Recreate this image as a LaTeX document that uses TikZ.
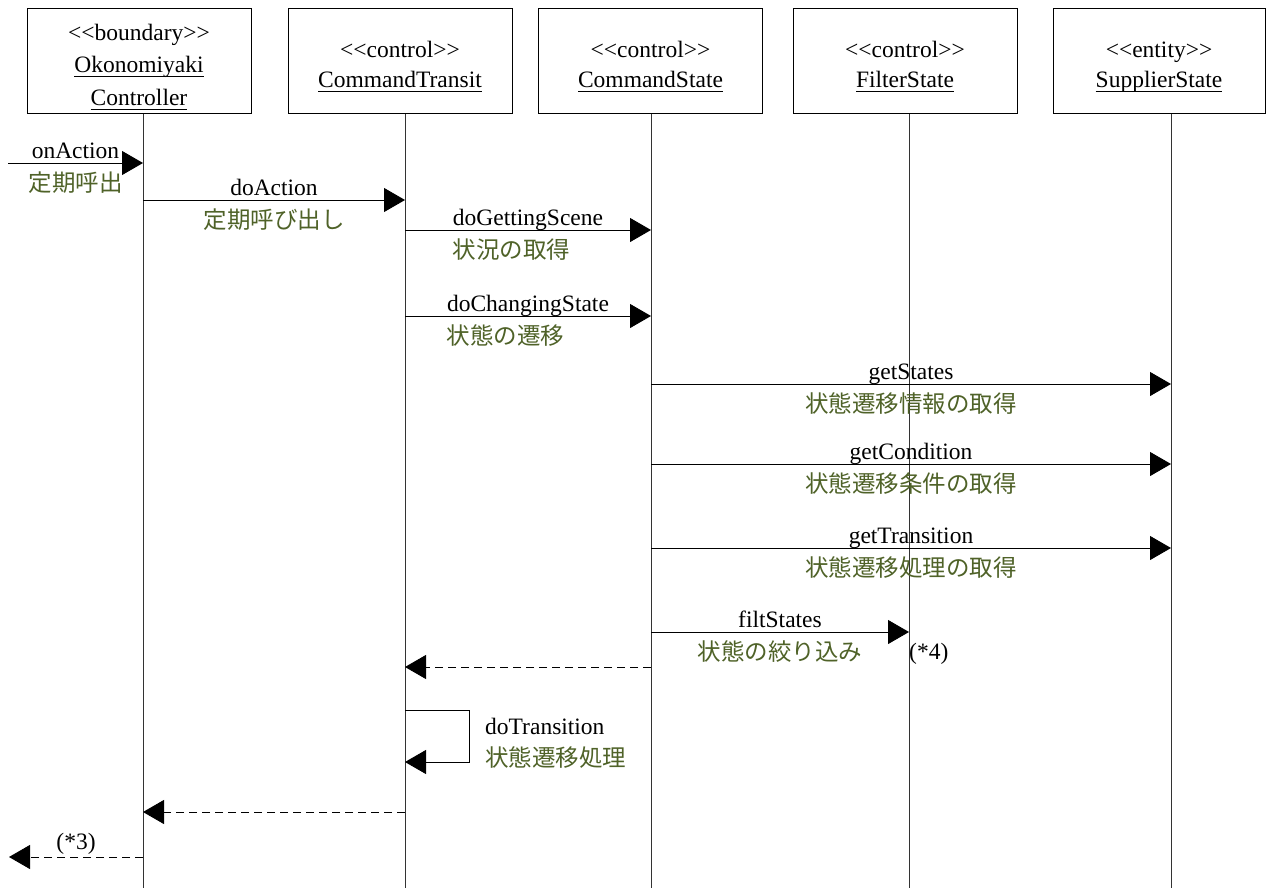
\documentclass[tikz,border=0pt]{standalone}
\usepackage{fontspec}
\setmainfont{Liberation Serif}
\newfontfamily\jpfont{Noto Sans CJK JP}
\usetikzlibrary{arrows.meta,calc}
\definecolor{jpgreen}{RGB}{79,98,40}
% stereotype guillemets written as two separate angle brackets
\newcommand\stereo[1]{\rule{0pt}{28pt}<\kern0pt<#1>\kern0pt>}
% object name underlined at a fixed distance below the baseline
\newcommand\objname[1]{\setbox0\hbox{#1}\rlap{\rule[-4pt]{\wd0}{0.9pt}}\box0}

\begin{document}
\begin{tikzpicture}[x=1pt,y=-1pt,
  every node/.style={font=\fontsize{23.5}{32.5}\selectfont, inner sep=0pt},
  headbox/.style={draw, line width=0.9pt, minimum width=224pt, minimum height=105pt,
                  align=center, anchor=north},
  twoline/.style={font=\fontsize{23.5}{30}\selectfont},
  lifeline/.style={line width=0.9pt, draw=black!80},
  msg/.style={line width=0.9pt, -{Triangle[length=21pt,width=24pt]}},
  reply/.style={msg, dash pattern=on 8pt off 5pt},
  en/.style={anchor=base, yshift=4.5pt},
  jp/.style={font=\fontsize{23.5}{31}\selectfont\jpfont, text=jpgreen},
  jpl/.style={jp, anchor=base, yshift=-28pt},
]
\useasboundingbox (0,0) rectangle (1273,888);

% lifeline positions
\coordinate (A) at (143,0);
\coordinate (B) at (405,0);
\coordinate (C) at (651,0);
\coordinate (D) at (909,0);
\coordinate (E) at (1171,0);
\coordinate (bottom) at (0,888);

% object heads
\node[headbox] (okc) at (139,8) {\stereo{boundary}\\\objname{Okonomiyaki}\\\objname{Controller}};
\node[headbox, twoline] (ct)  at (400,8) {\stereo{control}\\\objname{CommandTransit}};
\node[headbox, twoline] (cs)  at (650.5,8) {\stereo{control}\\\objname{CommandState}};
\node[headbox, twoline] (fs)  at (905,8) {\stereo{control}\\\objname{FilterState}};
\node[headbox, twoline, minimum width=212pt] (ss) at (1159,8) {\stereo{entity}\\\objname{SupplierState}};

% lifelines
\draw[lifeline] (A |- okc.south) -- (A |- bottom);
\draw[lifeline] (B |- ct.south) -- (B |- bottom);
\draw[lifeline] (C |- cs.south) -- (C |- bottom);
\draw[lifeline] (D |- fs.south) -- (D |- bottom);
\draw[lifeline] (E |- ss.south) -- (E |- bottom);

% incoming call
\coordinate (in) at (8,163);
\draw[msg] (in) -- node[en]{onAction} node[jpl]{定期呼出} (A |- in);

% doAction
\draw[msg] (A |- 0,200) -- node[en]{doAction} node[jpl]{定期呼び出し} (B |- 0,200);

% doGettingScene
\draw[msg] (B |- 0,230) -- node[en] (gs) {doGettingScene} (C |- 0,230);
\node[jp, anchor=base west] at ([yshift=-32.5pt]gs.base west) {状況の取得};

% doChangingState
\draw[msg] (B |- 0,316) -- node[en] (chs) {doChangingState} (C |- 0,316);
\node[jp, anchor=base west] at ([yshift=-32.5pt]chs.base west) {状態の遷移};

% calls to SupplierState
\draw[msg] (C |- 0,384) -- node[en]{getStates} node[jpl]{状態遷移情報の取得} (E |- 0,384);
\draw[msg] (C |- 0,464) -- node[en]{getCondition} node[jpl]{状態遷移条件の取得} (E |- 0,464);
\draw[msg] (C |- 0,548) -- node[en]{getTransition} node[jpl]{状態遷移処理の取得} (E |- 0,548);

% filtStates
\draw[msg] (C |- 0,632) -- node[en]{filtStates} node[jpl]{状態の絞り込み} (D |- 0,632);
\node[anchor=base west] (n4) at (909,659) {(*4)};

% return to CommandTransit
\draw[reply] (C |- 0,667) -- (B |- 0,667);

% self call doTransition
\coordinate (loopR) at (469,710);
\draw[msg] (B |- loopR) -- (loopR) -- (loopR |- 0,762) -- (B |- 0,762);
\node[anchor=base west] (dt) at (485,734) {doTransition};
\node[jp, anchor=base west] (dtj) at (485,766) {状態遷移処理};

% returns
\draw[reply] (B |- 0,812) -- (A |- 0,812);
\coordinate (out) at (9,857);
\draw[reply] (A |- out) -- node[anchor=base, yshift=8pt]{(*3)} (out);
\end{tikzpicture}
\end{document}
